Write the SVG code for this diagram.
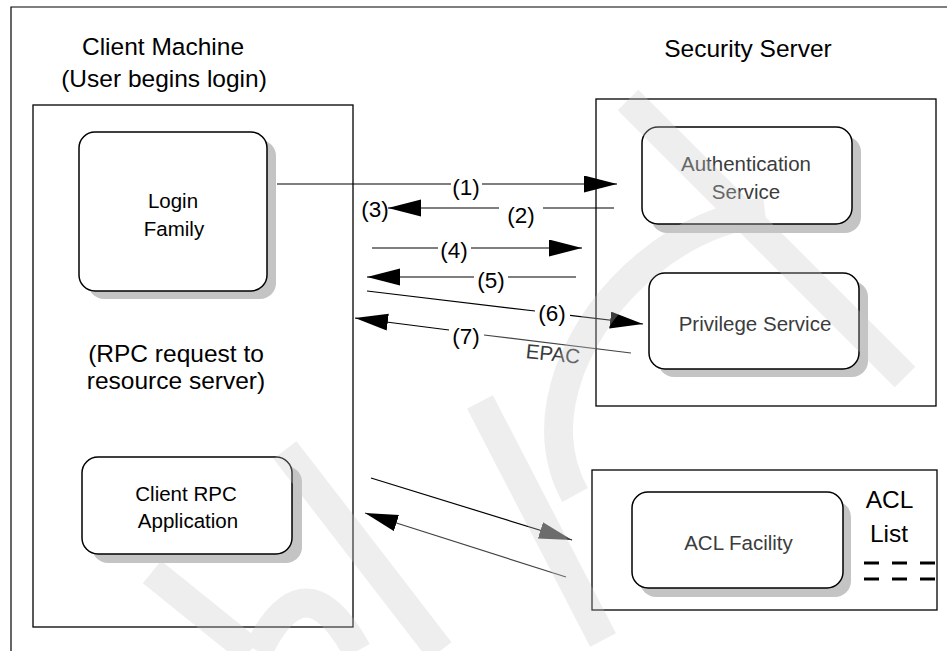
<svg xmlns="http://www.w3.org/2000/svg" width="947" height="651" viewBox="0 0 947 651">
<style>
.frame{fill:none;stroke:#000;stroke-width:1.2}
.box{fill:#fff;stroke:#000;stroke-width:1.3}
.node{fill:#fff;stroke:#000;stroke-width:1.5}
.shadow{fill:#c4c4c4}
.t{font-family:"Liberation Sans",Arial,Helvetica,sans-serif;text-anchor:middle;fill:#000}
.big{font-size:24.5px}
.mid{font-size:20.5px}
.lbl{font-size:22.5px}
.dim{fill:#3c3c3c}
.ln{stroke:#000;stroke-width:1.2;fill:none}
.lng{stroke:#444;stroke-width:1.2;fill:none}
.wm{fill:none;stroke:#c8c8c8;stroke-width:29}
</style>
<defs>
<marker id="ah" markerUnits="userSpaceOnUse" viewBox="0 0 34 18" markerWidth="34" markerHeight="18" refX="33" refY="8.5" orient="auto"><path d="M0,0 L33,8.5 L0,17 z" fill="#000"/></marker>
<marker id="ahg" markerUnits="userSpaceOnUse" viewBox="0 0 34 18" markerWidth="34" markerHeight="18" refX="33" refY="8.5" orient="auto"><path d="M0,0 L33,8.5 L0,17 z" fill="#444"/></marker>
</defs>
<rect width="947" height="651" fill="#fff"/>
<path class="frame" d="M11,651 L11,7 L947,7"/>

<g id="client-machine">
<rect class="box" x="33" y="105" width="320" height="522"/>
<text class="t big" x="163" y="55">Client Machine</text>
<text class="t big" x="164" y="87">(User begins login)</text>
<text class="t big" x="176" y="362">(RPC request to</text>
<text class="t big" x="176" y="389">resource server)</text>
</g>

<g id="security-server">
<rect class="box" x="596" y="99" width="340" height="307"/>
<text class="t big" x="748" y="57">Security Server</text>
</g>

<g id="acl-server">
<rect class="box" x="592" y="470" width="345" height="140" stroke="#333"/>
<text class="t big" x="889.5" y="508">ACL</text>
<text class="t big" x="889" y="542">List</text>
<path d="M864,563 L937,563 M864,579 L937,579" stroke="#000" stroke-width="3" stroke-dasharray="15 13" fill="none"/>
</g>

<g id="login-family">
<rect class="shadow" x="88" y="140" width="188" height="159" rx="16"/>
<rect class="node" x="79" y="132" width="188" height="159" rx="16"/>
<text class="t mid" x="173" y="208">Login</text>
<text class="t mid" x="174" y="236">Family</text>
</g>

<g id="authentication-service">
<rect class="shadow" x="651" y="136" width="210" height="97" rx="16"/>
<rect class="node" x="642" y="127" width="210" height="97" rx="16"/>
<text class="t mid dim" x="746" y="171">Authentication</text>
<text class="t mid dim" x="746" y="199">Service</text>
</g>

<g id="privilege-service">
<rect class="shadow" x="658" y="281" width="210" height="96" rx="16"/>
<rect class="node" x="649" y="273" width="210" height="96" rx="16"/>
<text class="t mid dim" x="755" y="331">Privilege Service</text>
</g>

<g id="client-rpc-application">
<rect class="shadow" x="92" y="466" width="210" height="97" rx="16"/>
<rect class="node" x="82" y="457" width="210" height="97" rx="16"/>
<text class="t mid" x="186" y="501">Client RPC</text>
<text class="t mid" x="188" y="528">Application</text>
</g>

<g id="acl-facility">
<rect class="shadow" x="640" y="501" width="211" height="96" rx="16"/>
<rect class="node" x="632" y="492" width="211" height="96" rx="16"/>
<text class="t mid dim" x="738.5" y="550">ACL Facility</text>
</g>

<g id="connectors">
<path class="ln" d="M277,184 L451,184"/>
<path class="ln" d="M482,184 L617,184" marker-end="url(#ah)"/>
<text class="t lbl" x="466" y="195">(1)</text>

<path class="ln" d="M614,208 L543,208"/>
<path class="ln" d="M499,208 L388,208" marker-end="url(#ah)"/>
<text class="t lbl" x="521" y="223">(2)</text>
<text class="t lbl" x="375" y="217">(3)</text>

<path class="ln" d="M372,248 L438,248"/>
<path class="ln" d="M471,248 L582,248" marker-end="url(#ah)"/>
<text class="t lbl" x="454" y="258">(4)</text>

<path class="ln" d="M576,277 L508,277"/>
<path class="ln" d="M474,277 L367,277" marker-end="url(#ah)"/>
<text class="t lbl" x="491" y="288">(5)</text>

<path class="ln" d="M367,291 L535,311"/>
<path class="ln" d="M570,315.3 L643,324" marker-end="url(#ah)"/>
<text class="t lbl" x="552" y="321">(6)</text>

<path class="lng" d="M631,353 L484,335"/>
<path class="ln" d="M449,330 L355,318" marker-end="url(#ah)"/>
<text class="t lbl" x="466" y="344">(7)</text>
<text class="t mid dim" x="553" y="361" transform="rotate(6 553 354)">EPAC</text>

<path class="ln" d="M371,478 L572,540" marker-end="url(#ahg)"/>
<path class="lng" d="M566,577 L365,513" marker-end="url(#ah)"/>
</g>

<g id="watermark" opacity="0.3">
<path class="wm" d="M628,100 L905,377"/>
<path class="wm" d="M765,212 C680,222 602,288 570,370 C552,420 556,460 575,495"/>
<path class="wm" d="M480,402 L603,640"/>
<path class="wm" d="M152,572 L250,651"/>
<path class="wm" d="M285,450 L440,651"/>
<path class="wm" d="M258,651 Q305,555 357,651"/>
</g>
</svg>
